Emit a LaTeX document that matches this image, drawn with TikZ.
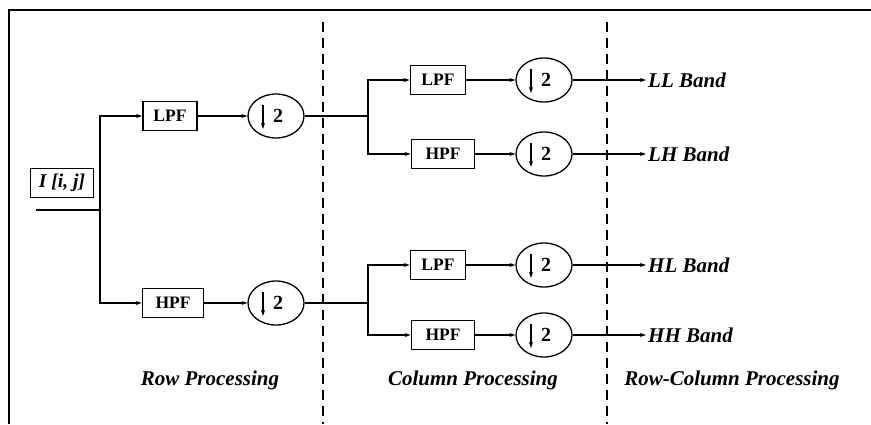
\documentclass[tikz,border=0pt]{standalone}
\usepackage{fontspec}
\setmainfont{Liberation Serif}
\usepackage{tikz}
\usetikzlibrary{shapes.geometric}
\usetikzlibrary{arrows.meta}

\tikzset{
  filt/.style={draw,line width=1.6pt,inner sep=0pt,minimum height=29pt,font=\fontsize{17.5}{19}\selectfont\bfseries},
  dwn/.style={draw,ellipse,line width=1.3pt,inner sep=0pt,minimum width=56pt,minimum height=44pt,
    font=\fontsize{20}{22}\selectfont\bfseries,
    path picture={\draw[line width=1.2pt,-{Stealth[length=6pt,width=4pt]}]
      ([shift={(-13pt,11pt)}]path picture bounding box.center) -- ++(0pt,-24pt);}},
  band/.style={anchor=west,inner sep=2pt,font=\fontsize{21}{23}\selectfont\bfseries\itshape},
  stage/.style={font=\fontsize{21}{23}\selectfont\bfseries\itshape},
  arr/.style={line width=1.3pt,-{Stealth[length=6pt,width=4pt]}},
  wire/.style={line width=1.3pt}
}

\begin{document}
\begin{tikzpicture}[x=1pt,y=-1pt]
            % Fix the size of the page
            \useasboundingbox (0,0) rectangle (871,424);

            % Draw the frame and the stage borders
            \draw[line width=2pt] (9,424) -- (9,10) -- (871,10);
            \draw[line width=1.5pt,dash pattern=on 10pt off 6pt] (323,22) -- (323,424);
            \draw[line width=1.5pt,dash pattern=on 10pt off 6pt] (607,22) -- (607,424);

            % Input
            \node[draw,line width=1.6pt,minimum width=63pt,minimum height=29pt,inner sep=0pt,
                  font=\fontsize{19.5}{21}\selectfont\bfseries\itshape] (img) at (62,183) {I [i, j]};
            \coordinate (in) at (36,210);
            \coordinate (S0) at (100,210);

            % Row filters
            \node[filt,minimum width=54pt] (RL) at (170,116) {LPF};
            \node[filt,minimum width=61pt] (RH) at (173,303) {HPF};
            \node[dwn] (RLd) at (276,116) {\kern4pt 2};
            \node[dwn] (RHd) at (276,303) {\kern4pt 2};

            \draw[wire] (in) -- (S0);
            \draw[arr] (S0) |- (RL);
            \draw[arr] (S0) |- (RH);
            \draw[arr] (RL) -- (RLd);
            \draw[arr] (RH) -- (RHd);

            % Column filters
            \coordinate (S1) at (368,116);
            \coordinate (S2) at (368,303);
            \node[filt,minimum width=55pt] (CLL) at (438,80) {LPF};
            \node[filt,minimum width=63pt] (CLH) at (443,154) {HPF};
            \node[filt,minimum width=55pt] (CHL) at (438,265) {LPF};
            \node[filt,minimum width=63pt] (CHH) at (443,335) {HPF};
            \node[dwn] (CLLd) at (544,80) {\kern4pt 2};
            \node[dwn] (CLHd) at (544,154) {\kern4pt 2};
            \node[dwn] (CHLd) at (544,265) {\kern4pt 2};
            \node[dwn] (CHHd) at (544,335) {\kern4pt 2};

            \draw[wire] (RLd) -- (S1);
            \draw[wire] (RHd) -- (S2);
            \draw[arr] (S1) |- (CLL);
            \draw[arr] (S1) |- (CLH);
            \draw[arr] (S2) |- (CHL);
            \draw[arr] (S2) |- (CHH);
            \draw[arr] (CLL) -- (CLLd);
            \draw[arr] (CLH) -- (CLHd);
            \draw[arr] (CHL) -- (CHLd);
            \draw[arr] (CHH) -- (CHHd);

            % Output bands
            \node[band] (LL) at (646,80) {LL Band};
            \node[band] (LH) at (646,154) {LH Band};
            \node[band] (HL) at (646,265) {HL Band};
            \node[band] (HH) at (646,335) {HH Band};
            \draw[arr] (CLLd) -- (LL);
            \draw[arr] (CLHd) -- (LH);
            \draw[arr] (CHLd) -- (HL);
            \draw[arr] (CHHd) -- (HH);

            % Stage names
            \node[stage] (rowp) at (210,380) {Row Processing};
            \node[stage] (colp) at (473,380) {Column Processing};
            \node[stage] (rcp) at (732,380) {Row-Column Processing};
\end{tikzpicture}
\end{document}
